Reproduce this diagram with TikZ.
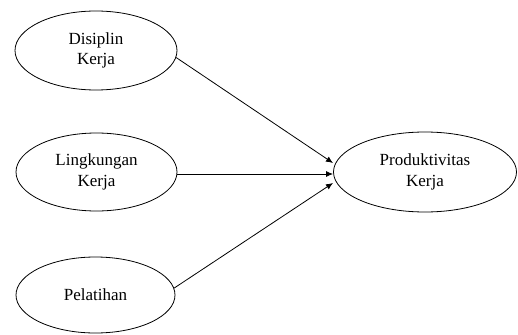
\documentclass[tikz,border=0pt]{standalone}
\usepackage{fontspec}
\setmainfont{Liberation Serif}
\usetikzlibrary{shapes.geometric,arrows.meta}
\begin{document}
\begin{tikzpicture}[x=1pt,y=-1pt,
  var/.style={ellipse,draw,line width=0.8pt,inner sep=0pt,align=center,
    font=\rmfamily\fontsize{17}{20.5}\selectfont},
  link/.style={line width=0.8pt,-{Latex[length=7pt,width=6pt]}}]
\useasboundingbox (0,0) rectangle (518,334);
\node[var,minimum width=162pt,minimum height=79pt] (a) at (96,50.5) {Disiplin\\Kerja};
\node[var,minimum width=161pt,minimum height=78pt] (b) at (96.5,172) {Lingkungan\\Kerja};
\node[var,minimum width=159pt,minimum height=76pt] (c) at (95.5,295) {Pelatihan};
\node[var,minimum width=183pt,minimum height=80pt] (d) at (425,172) {Produktivitas\\Kerja};
\coordinate (ta) at (333,163);
\coordinate (tb) at (333,174);
\coordinate (tc) at (333,183);
\draw[link] (a.-5) -- (ta);
\draw[link] (b.east |- tb) -- (tb);
\draw[link] (c.5) -- (tc);
\end{tikzpicture}
\end{document}
